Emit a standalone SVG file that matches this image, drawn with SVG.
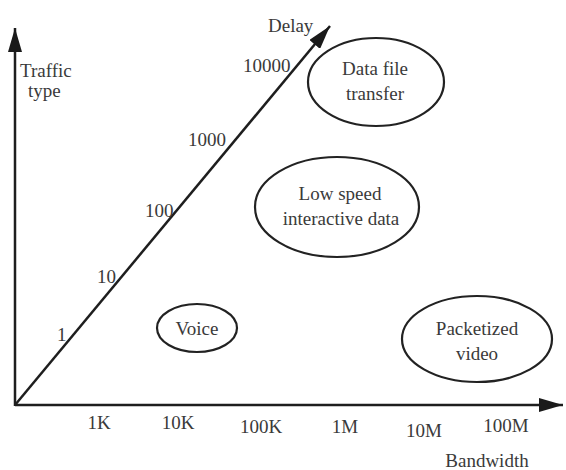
<svg xmlns="http://www.w3.org/2000/svg" width="566" height="470" viewBox="0 0 566 470">
<defs>
<marker id="ah" markerUnits="userSpaceOnUse" markerWidth="26" markerHeight="14" refX="24" refY="7" orient="auto">
<path d="M0,0 L24,7 L0,14 Z" fill="#1a1a1a"/>
</marker>
<style>
.ax{stroke:#1e1e1e;stroke-width:2.5;fill:none}
.el{stroke:#222;stroke-width:2.2;fill:none}
text{font-size:19px;fill:#3a3a3a}
.m{text-anchor:middle}
</style>
</defs>
<rect width="566" height="470" fill="#ffffff"/>
<g id="connectors">
<line class="ax" x1="15" y1="406" x2="15" y2="28" marker-end="url(#ah)"/>
<line class="ax" x1="15" y1="405" x2="563" y2="405" marker-end="url(#ah)"/>
<line class="ax" x1="15" y1="405" x2="330" y2="26" marker-end="url(#ah)"/>
</g>
<g font-family="Liberation Serif, DejaVu Serif, serif">
<g id="axis-labels">
<text x="20" y="77">Traffic</text>
<text x="28" y="97">type</text>
<text x="268" y="32">Delay</text>
<text x="243" y="72">10000</text>
<text x="188" y="146">1000</text>
<text x="145" y="217">100</text>
<text x="97" y="283">10</text>
<text x="57" y="341">1</text>
<text class="m" x="99" y="429">1K</text>
<text class="m" x="178" y="429">10K</text>
<text class="m" x="261" y="433">100K</text>
<text class="m" x="345" y="433">1M</text>
<text class="m" x="424" y="437">10M</text>
<text class="m" x="506" y="432">100M</text>
<text class="m" x="487" y="467">Bandwidth</text>
</g>
<g id="data-file-transfer">
<ellipse class="el" cx="376" cy="82" rx="68" ry="44"/>
<text class="m" x="375" y="75">Data file</text>
<text class="m" x="375" y="100">transfer</text>
</g>
<g id="low-speed">
<ellipse class="el" cx="337" cy="207" rx="82" ry="50"/>
<text class="m" x="340" y="200">Low speed</text>
<text class="m" x="341" y="225">interactive data</text>
</g>
<g id="voice">
<ellipse class="el" cx="197" cy="328" rx="40" ry="24"/>
<text class="m" x="197" y="335">Voice</text>
</g>
<g id="packetized-video">
<ellipse class="el" cx="477" cy="339" rx="75" ry="43"/>
<text class="m" x="477" y="335">Packetized</text>
<text class="m" x="477" y="360">video</text>
</g>
</g>
</svg>
